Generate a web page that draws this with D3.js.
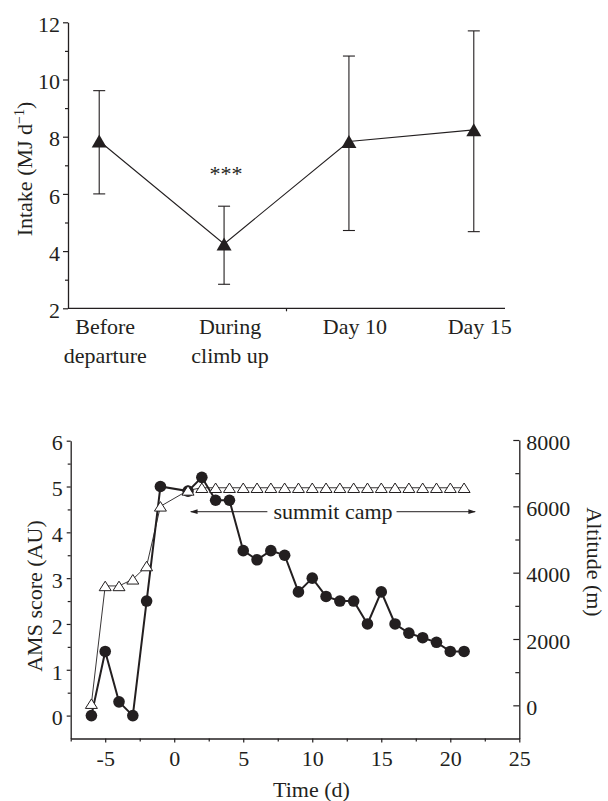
<!DOCTYPE html>
<html>
<head>
<meta charset="utf-8">
<script src="https://cdn.jsdelivr.net/npm/d3@7"></script>
<style>
  html, body { margin: 0; padding: 0; background: #fff; }
  svg { display: block; }
  text { font-family: "Liberation Serif", "Times New Roman", serif; fill: #231f20; }
</style>
</head>
<body>
<script>
// ---------- Data: top panel (energy intake) ----------
const categories = ["Before departure", "During climb up", "Day 10", "Day 15"];
const categoryLines = [["Before", "departure"], ["During", "climb up"], ["Day 10"], ["Day 15"]];
const intakeMean  = [7.85, 4.25, 7.83, 8.24];
const intakeUpper = [9.61, 5.57, 10.82, 11.70];
const intakeLower = [6.00, 2.84, 4.72, 4.68];
const intakeTicks = [2, 4, 6, 8, 10, 12];
const intakeMinorTicks = [3, 5, 7, 9, 11];
const sigLabel = "***";
const sigCategory = "During climb up";

// ---------- Data: bottom panel (AMS score & altitude) ----------
const days = [-6, -5, -4, -3, -2, -1, 1, 2, 3, 4, 5, 6, 7, 8, 9, 10, 11, 12, 13, 14, 15, 16, 17, 18, 19, 20, 21];
const amsScore = [0, 1.4, 0.3, 0, 2.5, 5.0, 4.9, 5.2, 4.7, 4.7, 3.6, 3.4, 3.6, 3.5, 2.7, 3.0, 2.6, 2.5, 2.5, 2.0, 2.7, 2.0, 1.8, 1.7, 1.6, 1.4, 1.4];
const altitude = [50, 3600, 3600, 3800, 4200, 6000, 6480, 6560, 6560, 6560, 6560, 6560, 6560, 6560, 6560, 6560, 6560, 6560, 6560, 6560, 6560, 6560, 6560, 6560, 6560, 6560, 6560];
const timeTicks = [-5, 0, 5, 10, 15, 20, 25];
const timeMinorTicks = [-7.5, -2.5, 2.5, 7.5, 12.5, 17.5, 22.5];
const amsTicks = [0, 1, 2, 3, 4, 5, 6];
const amsMinorTicks = [0.5, 1.5, 2.5, 3.5, 4.5, 5.5];
const altTicks = [0, 2000, 4000, 6000, 8000];
const altMinorTicks = [1000, 3000, 5000, 7000];
const summitLabel = "summit camp";
const summitStart = 1.2, summitEnd = 21.8, summitLevel = 4.45;

// ---------- Setup ----------
const W = 608, H = 801;
const ink = "#231f20";
const FS = 22;
const svg = d3.select("body").append("svg").attr("width", W).attr("height", H);

svg.append("defs").append("marker")
  .attr("id", "arrow").attr("viewBox", "0 -4 10 8")
  .attr("refX", 9).attr("refY", 0)
  .attr("markerUnits", "userSpaceOnUse")
  .attr("markerWidth", 8).attr("markerHeight", 6)
  .attr("orient", "auto-start-reverse")
  .append("path").attr("d", "M0,-3.2L10,0L0,3.2Z").attr("fill", ink);

function styleAxis(g) {
  g.selectAll("path.domain").attr("stroke", ink).attr("stroke-width", 1.3);
  g.selectAll(".tick line").attr("stroke", ink).attr("stroke-width", 1.2);
  g.selectAll(".tick text").attr("font-size", FS).attr("fill", ink)
    .style("font-family", '"Liberation Serif", "Times New Roman", serif');
}

// ================= TOP PANEL =================
const xTop = d3.scalePoint().domain(categories).range([68, 505]).padding(0.25);
const yTop = d3.scaleLinear().domain([2, 12]).range([308.3, 22.3]);
const topG = svg.append("g");

// y axis
const gyT = topG.append("g").attr("transform", "translate(68,0)")
  .call(d3.axisLeft(yTop).tickValues(intakeTicks).tickSize(5).tickSizeOuter(0).tickPadding(3).tickFormat(d3.format("d")));
gyT.selectAll(".tick text").attr("dy", "0.42em");
topG.append("g").attr("transform", "translate(68,0)")
  .call(d3.axisLeft(yTop).tickValues(intakeMinorTicks).tickSize(3).tickSizeOuter(0).tickFormat(""))
  .call(g => g.select(".domain").remove()).call(styleAxis);
styleAxis(gyT);

// x axis line
const [x0T, x1T] = xTop.range();
topG.append("line").attr("x1", x0T).attr("x2", x1T).attr("y1", yTop(2)).attr("y2", yTop(2))
  .attr("stroke", ink).attr("stroke-width", 1.3);
const midTick = (xTop(categories[1]) + xTop(categories[2])) / 2;
topG.append("line").attr("x1", midTick).attr("x2", midTick).attr("y1", yTop(2)).attr("y2", yTop(2) + 3)
  .attr("stroke", ink).attr("stroke-width", 1.2);

// x labels
categories.forEach((c, i) => {
  const t = topG.append("text").attr("text-anchor", "middle").attr("font-size", FS)
    .attr("x", xTop(c) + 6).attr("y", 334);
  categoryLines[i].forEach((ln, j) => {
    t.append("tspan").attr("x", xTop(c) + 6).attr("dy", j === 0 ? 0 : 28.5).text(ln);
  });
});

// y title
const yTitleT = topG.append("text").attr("transform", "translate(32,169) rotate(-90)")
  .attr("text-anchor", "middle").attr("font-size", FS);
yTitleT.append("tspan").text("Intake (MJ d");
yTitleT.append("tspan").attr("font-size", 14).attr("dy", -8).text("\u22121");
yTitleT.append("tspan").attr("dy", 8).text(")");

// error bars
const topData = categories.map((c, i) => ({ c, m: intakeMean[i], hi: intakeUpper[i], lo: intakeLower[i] }));
const eb = topG.append("g").attr("stroke", ink).attr("stroke-width", 1.1);
topData.forEach(d => {
  const x = xTop(d.c);
  eb.append("line").attr("x1", x).attr("x2", x).attr("y1", yTop(d.hi)).attr("y2", yTop(d.lo));
  eb.append("line").attr("x1", x - 6).attr("x2", x + 6).attr("y1", yTop(d.hi)).attr("y2", yTop(d.hi));
  eb.append("line").attr("x1", x - 6).attr("x2", x + 6).attr("y1", yTop(d.lo)).attr("y2", yTop(d.lo));
});
// connecting line
topG.append("path").datum(topData)
  .attr("d", d3.line().x(d => xTop(d.c)).y(d => yTop(d.m)))
  .attr("fill", "none").attr("stroke", ink).attr("stroke-width", 1.1);
// triangles (bbox-centred)
function triPath(w, h) { return `M0,${-h / 2}L${w / 2},${h / 2}L${-w / 2},${h / 2}Z`; }
topG.selectAll(".tri").data(topData).join("path")
  .attr("d", triPath(15, 13))
  .attr("transform", d => `translate(${xTop(d.c)},${yTop(d.m)})`)
  .attr("fill", ink);
// significance
const sigIdx = categories.indexOf(sigCategory);
topG.append("text").attr("text-anchor", "middle").attr("font-size", FS)
  .attr("x", xTop(sigCategory) + 2).attr("y", yTop(intakeUpper[sigIdx]) - 25).text(sigLabel);

// ================= BOTTOM PANEL =================
const xB = d3.scaleLinear().domain([-7.5, 25]).range([70.7, 519.3]);
const yL = d3.scaleLinear().domain([-0.5, 6]).range([738.5, 440.7]);
const yR = d3.scaleLinear().domain([-1000, 8000]).range([738.5, 440]);
const bot = svg.append("g");

// x axis
const gx = bot.append("g").attr("transform", `translate(0,${yL(-0.5)})`)
  .call(d3.axisBottom(xB).tickValues(timeTicks).tickSize(4).tickSizeOuter(0).tickPadding(8).tickFormat(d => String(d)));
styleAxis(gx);
bot.append("g").attr("transform", `translate(0,${yL(-0.5)})`)
  .call(d3.axisBottom(xB).tickValues(timeMinorTicks).tickSize(3).tickFormat(""))
  .call(g => g.select(".domain").remove()).call(styleAxis);

// left axis
const gl = bot.append("g").attr("transform", `translate(${xB(-7.5)},0)`)
  .call(d3.axisLeft(yL).tickValues(amsTicks).tickSize(4).tickSizeOuter(0).tickPadding(4).tickFormat(d3.format("d")));
gl.selectAll(".tick text").attr("dy", "0.42em");
styleAxis(gl);
bot.append("g").attr("transform", `translate(${xB(-7.5)},0)`)
  .call(d3.axisLeft(yL).tickValues(amsMinorTicks).tickSize(3).tickFormat(""))
  .call(g => g.select(".domain").remove()).call(styleAxis);

// right axis (ticks inward)
const gr = bot.append("g").attr("transform", `translate(${xB(25)},0)`)
  .call(d3.axisRight(yR).tickValues(altTicks).tickSize(-6).tickSizeOuter(0).tickPadding(7).tickFormat(d3.format("d")));
gr.selectAll(".tick text").attr("dy", "0.42em");
styleAxis(gr);
bot.append("g").attr("transform", `translate(${xB(25)},0)`)
  .call(d3.axisRight(yR).tickValues(altMinorTicks).tickSize(-4).tickFormat(""))
  .call(g => g.select(".domain").remove()).call(styleAxis);

// titles
bot.append("text").attr("transform", "translate(42,596) rotate(-90)")
  .attr("text-anchor", "middle").attr("font-size", FS).text("AMS score (AU)");
bot.append("text").attr("transform", "translate(587,562) rotate(90)")
  .attr("text-anchor", "middle").attr("font-size", FS).text("Altitude (m)");
bot.append("text").attr("x", 311.5).attr("y", 797)
  .attr("text-anchor", "middle").attr("font-size", FS).text("Time (d)");

// series
const bData = days.map((d, i) => ({ d, ams: amsScore[i], alt: altitude[i] }));
bot.append("path").datum(bData)
  .attr("d", d3.line().x(d => xB(d.d)).y(d => yL(d.ams)))
  .attr("fill", "none").attr("stroke", ink).attr("stroke-width", 2);
bot.append("path").datum(bData)
  .attr("d", d3.line().x(d => xB(d.d)).y(d => yR(d.alt)))
  .attr("fill", "none").attr("stroke", ink).attr("stroke-width", 0.9);
bot.selectAll(".dot").data(bData).join("circle")
  .attr("cx", d => xB(d.d)).attr("cy", d => yL(d.ams)).attr("r", 5.8).attr("fill", ink);
bot.selectAll(".otri").data(bData).join("path")
  .attr("d", triPath(12, 9.5))
  .attr("transform", d => `translate(${xB(d.d)},${yR(d.alt)})`)
  .attr("fill", "#fff").attr("stroke", ink).attr("stroke-width", 1);

// summit camp annotation
const sy = yL(summitLevel);
const sMid = (summitStart + summitEnd) / 2;
const st = bot.append("text").attr("x", xB(sMid)).attr("y", sy + 7)
  .attr("text-anchor", "middle").attr("font-size", FS).text(summitLabel);
const tw = st.node().getComputedTextLength();
bot.append("line").attr("x1", xB(sMid) - tw / 2 - 6).attr("x2", xB(summitStart)).attr("y1", sy).attr("y2", sy)
  .attr("stroke", ink).attr("stroke-width", 1).attr("marker-end", "url(#arrow)");
bot.append("line").attr("x1", xB(sMid) + tw / 2 + 4).attr("x2", xB(summitEnd)).attr("y1", sy).attr("y2", sy)
  .attr("stroke", ink).attr("stroke-width", 1).attr("marker-end", "url(#arrow)");
</script>
</body>
</html>
